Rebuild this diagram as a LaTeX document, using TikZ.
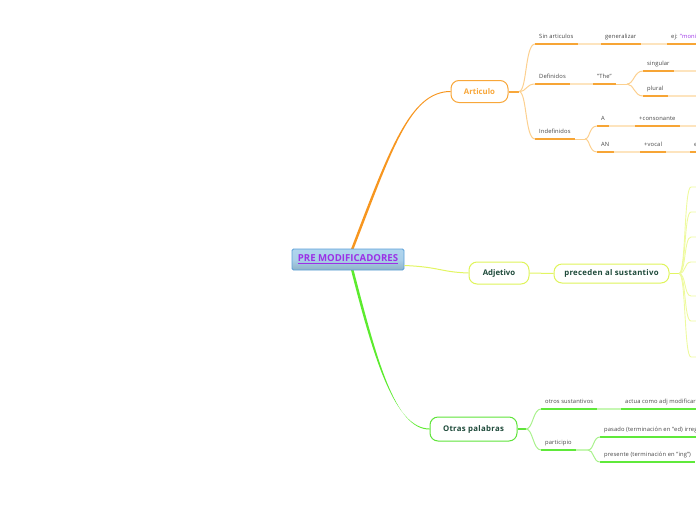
\documentclass[tikz,border=0pt]{standalone}
\usepackage{fontspec}
\setmainfont{Open Sans}
\usetikzlibrary{calc}
\definecolor{oMain}{HTML}{F7961F}
\definecolor{oBord}{HTML}{F8A73A}
\definecolor{oUL}{HTML}{F7A535}
\definecolor{oThin}{HTML}{FCD08F}
\definecolor{oLight}{HTML}{FDE4BE}
\definecolor{yMain}{HTML}{E2F562}
\definecolor{yBord}{HTML}{DFF45A}
\definecolor{yThin}{HTML}{EEFA9E}
\definecolor{gMain}{HTML}{5CEB2E}
\definecolor{gBord}{HTML}{5FE43A}
\definecolor{gUL}{HTML}{5FE93A}
\definecolor{gThin}{HTML}{A9F18D}
\definecolor{gLight}{HTML}{C6F7B3}
\definecolor{darkT}{HTML}{1E4A3A}
\definecolor{leafT}{HTML}{444444}
\definecolor{purp}{HTML}{9B30E6}
\definecolor{cTop}{HTML}{AFD5EE}
\definecolor{cBot}{HTML}{8EB1C8}
\definecolor{cBord}{HTML}{5A9FD8}
\begin{document}
\begin{tikzpicture}[x=1pt,y=-1pt,
  leaf/.style={anchor=south west, inner xsep=4pt, inner ysep=3.5pt, text depth=1.5pt, text height=4.5pt,
    font=\fontsize{5.8}{6}\selectfont\addfontfeature{LetterSpace=2}, text=leafT},
  ulo/.style={draw=oUL, line width=2pt},
  ulg/.style={draw=gUL, line width=2pt},
  leafo/.style={leaf, append after command={(\tikzlastnode.south west) edge[ulo] (\tikzlastnode.south east)}},
  leafg/.style={leaf, append after command={(\tikzlastnode.south west) edge[ulg] (\tikzlastnode.south east)}},
  lighto/.style={draw=oLight, line width=2pt},
  lightg/.style={draw=gLight, line width=2pt},
  thino/.style={draw=oThin, line width=1pt},
  thing/.style={draw=gThin, line width=1pt},
  thiny/.style={draw=yThin, line width=0.9pt},
  mainbox/.style={draw, line width=1pt, rounded corners=8pt, fill=white, font=\fontsize{7.8}{8}\selectfont\bfseries, inner sep=0pt},
]
\useasboundingbox (0,0) rectangle (696,520);
\clip (0,0) rectangle (696,520);

% main nodes
\node[mainbox, draw=oBord, text=oBord, minimum width=57pt, minimum height=22pt] (art) at (479.5,91.5) {Articulo};
\node[mainbox, draw=yBord, text=darkT, minimum width=60pt, minimum height=22pt] (adj) at (499,273) {Adjetivo};
\node[mainbox, draw=yBord, text=darkT, minimum width=115pt, minimum height=19pt] (prec) at (611.5,273.5) {\addfontfeature{LetterSpace=4}preceden al sustantivo};
\node[mainbox, draw=gBord, text=darkT, minimum width=87pt, minimum height=24pt] (otras) at (473.5,429) {\addfontfeature{LetterSpace=4}Otras palabras};

% central node position helpers
\coordinate (ctop) at (348,249);
\coordinate (cbot) at (348,270);

% main connectors
\fill[oMain] ([xshift=3pt]ctop) .. controls (389,150) and (410,91) .. ([yshift=0.5pt]art.west)
  -- ([yshift=-0.5pt]art.west) .. controls (410,92) and (392,150) .. ([xshift=5.6pt]ctop) -- cycle;
\fill[gMain] ([xshift=3pt]cbot) .. controls (374,360) and (395,428.5) .. ([yshift=0.5pt]otras.west)
  -- ([yshift=-0.5pt]otras.west) .. controls (395,429.5) and (377,360) .. ([xshift=5.6pt]cbot) -- cycle;

% central node
\node[draw=cBord, line width=0.9pt, rounded corners=1.5pt, top color=cTop, bottom color=cBot, middle color=cTop!85!cBot,
  minimum width=112pt, minimum height=21pt, inner sep=0pt, text=purp, font=\fontsize{9.6}{10}\selectfont\bfseries]
  (c) at (348,259.5) {\underline{PRE MODIFICADORES}};
\draw[yMain, line width=1pt] ([yshift=-6pt]c.east) .. controls (440,267) and (440,272) .. (adj.west);
\draw[yMain, line width=1pt] (adj.east) -- (prec.west);

% Articulo leaves
\node[leafo] (sinart) at (535,44) {Sin articulos};
\node[leafo] (gen) at (601,44) {generalizar};
\node[leafo] (ej1) at (667,44) {ej: \textcolor{purp}{"moni}};
\node[leafo] (def) at (535,84) {Definidos};
\node[leafo] (the) at (593,84) {"The"};
\node[leafo] (sing) at (643,71) {singular};
\node[leafo] (plur) at (643,96) {plural};
\node[leafo] (indef) at (535,139) {Indefinidos};
\node[leafo] (a) at (597,126) {A};
\node[leafo] (cons) at (635,126) {+consonante};
\node[leafo] (an) at (597,152) {AN};
\node[leafo] (voc) at (640,152) {+vocal};
\node[leafo] (ej2) at (690,152) {ej:};
\coordinate (singR) at (700,71);
\coordinate (plurR) at (700,96);
\coordinate (consR) at (700,126);

\coordinate (aj) at (519,91.5);
\draw[oBord, line width=2pt] (art.east) -- (aj);
\draw[thino] (aj) .. controls (527,91.5) and (525,44) .. (sinart.south west);
\draw[thino] (aj) .. controls (527,91.5) and (526,84) .. (def.south west);
\draw[thino] (aj) .. controls (527,91.5) and (525,139) .. (indef.south west);
\draw[lighto] (sinart.south east) -- (gen.south west);
\draw[lighto] (gen.south east) -- (ej1.south west);
\draw[lighto] (def.south east) -- (the.south west);
\coordinate (tj) at (627,84);
\draw[thino] (the.south east) -- (tj);
\draw[thino] (tj) .. controls (634,84) and (634,71) .. (sing.south west);
\draw[thino] (tj) .. controls (634,84) and (634,96) .. (plur.south west);
\draw[lighto] (sing.south east) -- (singR);
\draw[lighto] (plur.south east) -- (plurR);
\coordinate (ij) at (585,139);
\draw[thino] (indef.south east) -- (ij);
\draw[thino] (ij) .. controls (590,139) and (589,126) .. (a.south west);
\draw[thino] (ij) .. controls (590,139) and (589,152) .. (an.south west);
\draw[lighto] (a.south east) -- (cons.south west);
\draw[lighto] (cons.south east) -- (consR);
\draw[lighto] (an.south east) -- (voc.south west);
\draw[lighto] (voc.south east) -- (ej2.south west);

% Adjetivo branches
\coordinate (pj) at (679,273.5);
\draw[yMain, line width=1.6pt] (prec.east) -- (pj);
\foreach \i/\yy in {1/187,2/212,3/237,4/262,5/296,6/321,7/357}{
  \coordinate (b\i) at (700,\yy);
  \draw[thiny] (pj) .. controls (686,273.5) and (684,\yy) .. (691,\yy) -- (b\i);
}

% Otras palabras leaves
\node[leafg] (otros) at (541,409) {otros sustantivos};
\node[leafg] (actua) at (621,409) {actua como adj modificar};
\node[leafg] (part) at (541,450) {participio};
\node[leafg] (pas) at (600,437) {pasado (terminación en "ed) irreg};
\node[leafg] (pres) at (600,462) {presente (terminación en "ing")};
\coordinate (oj) at (526,429);
\draw[gBord, line width=2pt] (otras.east) -- (oj);
\draw[thing] (oj) .. controls (533,429) and (533,409) .. (otros.south west);
\draw[thing] (oj) .. controls (533,429) and (533,450) .. (part.south west);
\draw[lightg] (otros.south east) -- (actua.south west);
\coordinate (pj2) at (588,450);
\draw[lightg] (part.south east) -- (pj2);
\draw[thing] (pj2) .. controls (594,450) and (593,437) .. (pas.south west);
\draw[thing] (pj2) .. controls (594,450) and (593,462) .. (pres.south west);
\end{tikzpicture}
\end{document}
